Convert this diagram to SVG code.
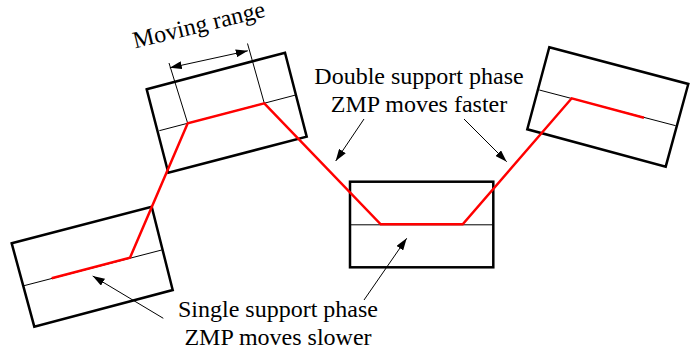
<svg xmlns="http://www.w3.org/2000/svg" width="698" height="356" viewBox="0 0 698 356">
<style>
.foot{fill:#fff;stroke:#000;stroke-width:2.5;stroke-linejoin:miter}
.mid{fill:none;stroke:#000;stroke-width:1}
.zmp{fill:none;stroke:#f00;stroke-width:2.5;stroke-linejoin:miter}
.ptr{fill:none;stroke:#000;stroke-width:1}
.lbl{font-family:"Liberation Serif","Times New Roman",serif;font-size:24px;fill:#000}
</style>
<defs>
<marker id="ah" viewBox="0 0 12 8" refX="12" refY="4" markerWidth="12" markerHeight="8" markerUnits="userSpaceOnUse" orient="auto-start-reverse">
<path d="M0,0 L12,4 L0,8 Z" fill="#000"/>
</marker>
</defs>
<rect width="698" height="356" fill="#fff"/>
<g id="foot1">
<polygon class="foot" points="11.7,243.3 151.7,206.7 172.7,290 34.3,326.7"/>
<line class="mid" x1="24" y1="285.7" x2="161.7" y2="250"/>
</g>
<g id="foot2">
<polygon class="foot" points="146.7,89.3 285,52.7 306.7,136.7 168.3,172.7"/>
<line class="mid" x1="159.3" y1="130.7" x2="295.7" y2="95"/>
<line class="mid" x1="169" y1="63" x2="187.7" y2="123.3"/>
<line class="mid" x1="247.5" y1="43.5" x2="264.3" y2="103.3"/>
</g>
<g id="foot3">
<rect class="foot" x="350" y="181.7" width="143.3" height="85.6"/>
<line class="mid" x1="350" y1="224.8" x2="493.3" y2="224.8"/>
</g>
<g id="foot4">
<polygon class="foot" points="549.3,47.3 688.3,84 665.7,166.7 527.3,129.3"/>
<line class="mid" x1="539.3" y1="90" x2="675.7" y2="125.7"/>
</g>
<g id="connectors">
<path class="zmp" d="M51.7,278.3 L130,257.7 L187.7,123.3 L264.3,103.3 L380.7,224.3 L462.7,224.3 L571.7,98.3 L644,117.7"/>
<line class="ptr" x1="169.8" y1="67.8" x2="247.8" y2="50.8" marker-start="url(#ah)" marker-end="url(#ah)"/>
<line class="ptr" x1="364" y1="119" x2="335.7" y2="161" marker-end="url(#ah)"/>
<line class="ptr" x1="464" y1="119" x2="506.7" y2="161.7" marker-end="url(#ah)"/>
<line class="ptr" x1="163.3" y1="318.3" x2="92.7" y2="276" marker-end="url(#ah)"/>
<line class="ptr" x1="364" y1="300" x2="406.7" y2="238.3" marker-end="url(#ah)"/>
</g>
<g id="labels">
<text class="lbl" transform="translate(135,48.5) rotate(-13.7)">Moving range</text>
<text class="lbl" x="419" y="83.5" text-anchor="middle">Double support phase</text>
<text class="lbl" x="419" y="111.5" text-anchor="middle">ZMP moves faster</text>
<text class="lbl" x="278" y="316.5" text-anchor="middle">Single support phase</text>
<text class="lbl" x="278" y="345" text-anchor="middle">ZMP moves slower</text>
</g>
</svg>
